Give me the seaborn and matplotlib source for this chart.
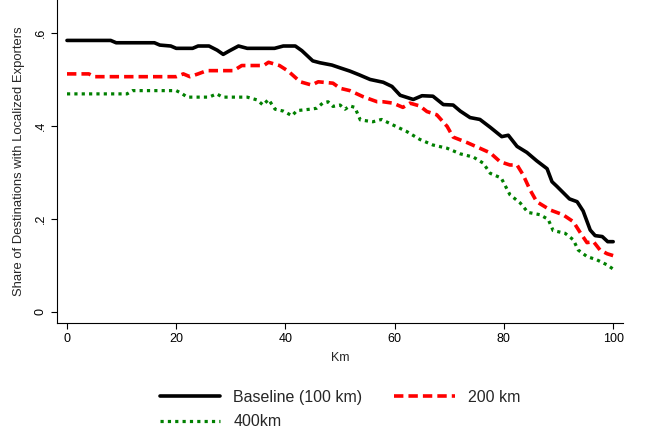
import matplotlib
matplotlib.use("Agg")
import matplotlib.pyplot as plt
import seaborn as sns
import numpy as np

# ---- data ----
base_km = [0, 8, 9, 16, 17, 19, 20, 23, 24, 26, 27.5, 28.6, 29.8, 31.4, 33, 38, 39.6, 41.8, 43, 45,
           46.3, 48.5, 50, 51.8, 53.5, 55.5, 57.9, 59.5, 61, 63.4, 65, 67, 68.9, 70.7, 72, 73.8, 75.6,
           77.5, 79.6, 80.8, 82.4, 84.2, 86, 87.9, 88.8, 89.7, 92, 93.4, 94.5, 95.8, 96.7, 98, 99, 100]
base_val = [0.584, 0.584, 0.579, 0.579, 0.574, 0.572, 0.567, 0.567, 0.572, 0.572, 0.563, 0.554, 0.562,
            0.572, 0.567, 0.567, 0.572, 0.572, 0.562, 0.540, 0.536, 0.531, 0.525, 0.518, 0.510, 0.500,
            0.494, 0.485, 0.466, 0.457, 0.465, 0.464, 0.446, 0.445, 0.432, 0.418, 0.414, 0.397, 0.377,
            0.380, 0.356, 0.343, 0.325, 0.308, 0.280, 0.270, 0.243, 0.237, 0.217, 0.176, 0.164, 0.162,
            0.151, 0.151]

r200_km = [0, 4, 5, 20, 21.3, 22.5, 24, 25.6, 30.5, 32, 36, 36.9, 38.9, 40.5, 42.7, 44.8, 46, 48.7,
           50, 51.8, 54.2, 56.8, 57.9, 59.7, 61.5, 62.8, 64.6, 65.9, 67.7, 69.6, 70.7, 73.3, 75.6,
           77.5, 79.3, 81.1, 82.4, 83.5, 84.8, 86, 88.5, 90.8, 92.7, 94, 95.2, 96.4, 97.6, 98.9, 100]
r200_val = [0.512, 0.512, 0.506, 0.506, 0.512, 0.506, 0.512, 0.519, 0.519, 0.530, 0.530, 0.537, 0.530,
            0.518, 0.495, 0.488, 0.495, 0.492, 0.481, 0.476, 0.463, 0.452, 0.452, 0.449, 0.440, 0.449,
            0.443, 0.431, 0.424, 0.399, 0.376, 0.364, 0.352, 0.342, 0.323, 0.316, 0.316, 0.295, 0.262,
            0.237, 0.219, 0.209, 0.194, 0.170, 0.149, 0.151, 0.133, 0.125, 0.121]

r400_km = [0, 11, 12, 20, 21, 22, 26, 27.4, 28.5, 33, 34.8, 35.9, 36.9, 38.1, 39.6, 41.2, 42.1, 44.5,
           45.7, 46.9, 47.8, 48.7, 50, 50.9, 51.8, 52.7, 53.7, 56, 57.6, 59.7, 62.2, 64.6, 67, 69.6,
           72, 74.4, 76.2, 77.5, 79.5, 81.1, 83, 84.4, 86.6, 88.1, 89, 91.2, 92.7, 93.6, 95.2, 97,
           98.9, 100]
r400_val = [0.469, 0.469, 0.476, 0.476, 0.470, 0.462, 0.462, 0.469, 0.462, 0.462, 0.456, 0.445, 0.457,
            0.436, 0.432, 0.422, 0.433, 0.436, 0.438, 0.450, 0.452, 0.442, 0.445, 0.436, 0.443, 0.440,
            0.413, 0.409, 0.414, 0.402, 0.388, 0.371, 0.359, 0.352, 0.340, 0.333, 0.320, 0.298, 0.288,
            0.252, 0.234, 0.214, 0.209, 0.199, 0.175, 0.169, 0.155, 0.133, 0.119, 0.112, 0.101, 0.092]

series_labels = ["Baseline (100 km)", "200 km", "400km"]
x_ticks = [0, 20, 40, 60, 80, 100]
y_ticks = [0, 0.2, 0.4, 0.6]
y_tick_labels = ["0", ".2", ".4", ".6"]

# ---- style ----
sns.set_style("ticks")
plt.rcParams['font.family'] = ['Liberation Sans', 'DejaVu Sans']

fig = plt.figure(figsize=(6.52, 4.36), dpi=100)
ax = fig.add_axes([57/652, 1 - 323/436, (623 - 57)/652, 323/436])

sns.lineplot(x=base_km, y=base_val, ax=ax, color="black", linewidth=2.6,
             label=series_labels[0], sort=True)
sns.lineplot(x=r200_km, y=r200_val, ax=ax, color="#ff0000", linewidth=2.6,
             label=series_labels[1], sort=True)
sns.lineplot(x=r400_km, y=r400_val, ax=ax, color="#008000", linewidth=2.3,
             label=series_labels[2], sort=True)
lines = ax.get_lines()
lines[1].set_dashes([2.6, 1.4])
lines[2].set_dashes([1.0, 1.3])

ax.set_xlim(-1.83, 101.8)
ax.set_ylim(-0.024, 0.671)
ax.set_xticks(x_ticks)
ax.set_xticklabels([str(t) for t in x_ticks], fontsize=9)
ax.set_yticks(y_ticks)
ax.set_yticklabels(y_tick_labels, fontsize=9, rotation=90, va="center")
ax.tick_params(axis="both", length=4.5, width=0.8, colors="black", pad=3)
for s in ["top", "right"]:
    ax.spines[s].set_visible(False)
for s in ["left", "bottom"]:
    ax.spines[s].set_linewidth(0.8)
    ax.spines[s].set_color("black")

ax.set_xlabel("Km", fontsize=9, labelpad=5)
ax.set_ylabel("Share of Destinations with Localized Exporters", fontsize=9.4, labelpad=7)

handles, labels = ax.get_legend_handles_labels()
order = [0, 2, 1]
ax.legend([handles[i] for i in order], [labels[i] for i in order],
          loc="upper center", bbox_to_anchor=(0.5, -0.162), ncol=2, frameon=False,
          fontsize=11.5, handlelength=3.8, handletextpad=0.8, columnspacing=2.0,
          labelspacing=0.6)

fig.savefig("out.png", dpi=100)
